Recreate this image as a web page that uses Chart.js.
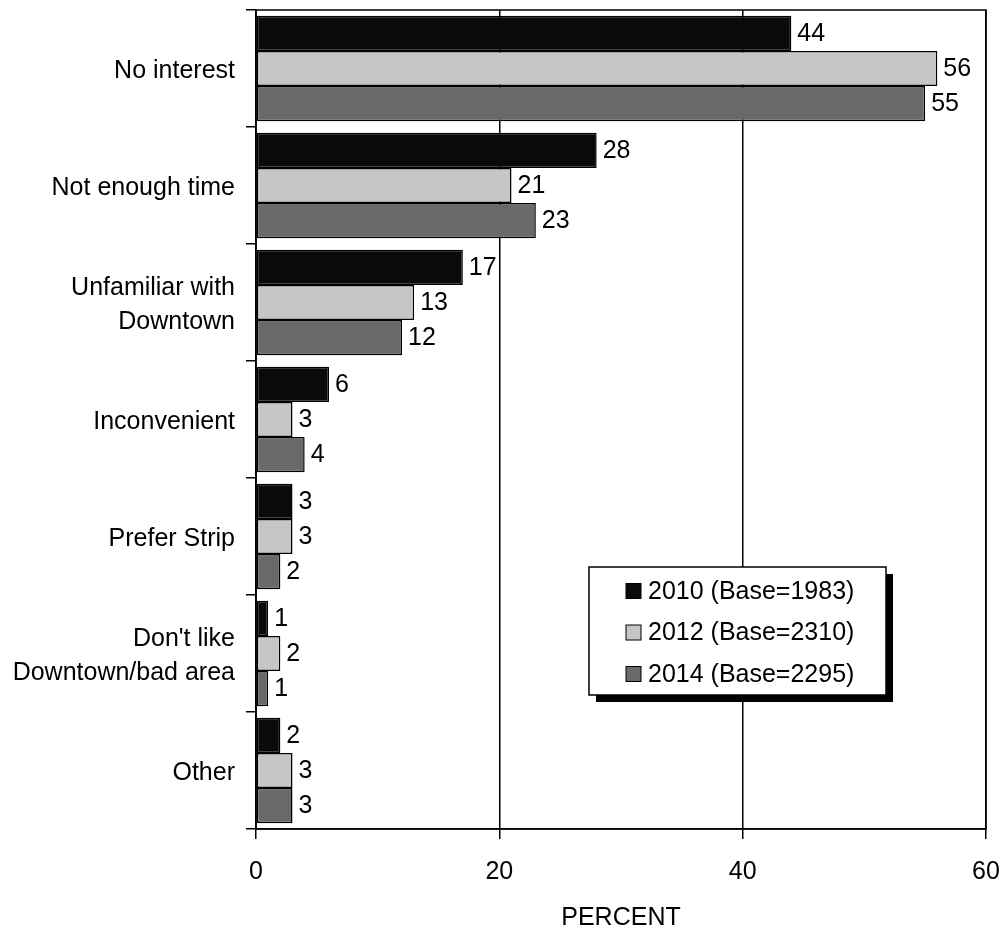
<!DOCTYPE html>
<html lang="en">
  <head>
    <meta charset="utf-8">
    <title>Reasons for not shopping Downtown</title>
    <script src="https://cdn.jsdelivr.net/npm/chart.js@4.4.0/dist/chart.umd.min.js"></script>
    <style>
      body { margin: 0; background: #fff; }
      #wrap { width: 1003px; height: 926px; }
    </style>
  </head>
  <body>
    <div id="wrap"><canvas id="chart" width="1003" height="926"></canvas></div>

    <script>
        var categories = [
            'No interest',
            'Not enough time',
            ['Unfamiliar with', 'Downtown'],
            'Inconvenient',
            'Prefer Strip',
            ["Don't like", 'Downtown/bad area'],
            'Other'
        ];
        var seriesNames = ['2010 (Base=1983)', '2012 (Base=2310)', '2014 (Base=2295)'];
        var values2010 = [44, 28, 17, 6, 3, 1, 2];
        var values2012 = [56, 21, 13, 3, 3, 2, 3];
        var values2014 = [55, 23, 12, 4, 2, 1, 3];
        var xTicks = [0, 20, 40, 60];

        var colors = ['#0a0a0a', '#c6c6c6', '#696969'];
        var fontFamily = '"Liberation Sans", Arial, sans-serif';
        var fontSize = 25;

        // box round the plot, value labels and the boxed legend
        var extras = {
            id: 'extras',
            afterDatasetsDraw: function (chart) {
                var ctx = chart.ctx;
                var a = chart.chartArea;
                ctx.save();
                ctx.strokeStyle = '#000';
                ctx.lineWidth = 1.5;
                ctx.strokeRect(a.left, a.top, a.right - a.left, a.bottom - a.top);

                ctx.fillStyle = '#000';
                ctx.font = fontSize + 'px ' + fontFamily;
                ctx.textAlign = 'left';
                ctx.textBaseline = 'middle';
                chart.data.datasets.forEach(function (ds, i) {
                    chart.getDatasetMeta(i).data.forEach(function (bar, j) {
                        ctx.fillText(ds.data[j], bar.x + 6, bar.y + 1);
                    });
                });

                // legend
                var lx = 589, ly = 567, lw = 297, lh = 128;
                ctx.fillStyle = '#000';
                ctx.fillRect(lx + 7, ly + 7, lw, lh);
                ctx.fillStyle = '#fff';
                ctx.fillRect(lx, ly, lw, lh);
                ctx.strokeRect(lx, ly, lw, lh);
                chart.data.datasets.forEach(function (ds, i) {
                    var cy = ly + 24 + i * 41.5;
                    ctx.fillStyle = ds.backgroundColor;
                    ctx.fillRect(lx + 37, cy - 7.5, 15, 15);
                    ctx.lineWidth = 1;
                    ctx.strokeRect(lx + 37, cy - 7.5, 15, 15);
                    ctx.fillStyle = '#000';
                    ctx.fillText(ds.label, lx + 59, cy + 1);
                });
                ctx.restore();
            }
        };

        function drawChart() {
            var ctx = document.getElementById('chart').getContext('2d');
            var sets = [values2010, values2012, values2014];

            var chart = new Chart(ctx, {
                type: 'bar',
                data: {
                    labels: categories,
                    datasets: sets.map(function (vals, i) {
                        return {
                            label: seriesNames[i],
                            data: vals,
                            backgroundColor: colors[i],
                            borderColor: '#000',
                            borderWidth: 1.5,
                            borderSkipped: false,
                            categoryPercentage: 0.9,
                            barPercentage: 1.0
                        };
                    })
                },
                options: {
                    indexAxis: 'y',
                    responsive: false,
                    animation: false,
                    layout: { padding: { top: 10, right: 17, left: 0, bottom: 0 } },
                    plugins: {
                        legend: { display: false },
                        tooltip: { enabled: false }
                    },
                    scales: {
                        x: {
                            min: 0,
                            max: 60,
                            afterBuildTicks: function (scale) {
                                scale.ticks = xTicks.map(function (v) { return { value: v }; });
                            },
                            afterFit: function (scale) {
                                scale.height = 97;
                                scale.paddingLeft = 0;
                                scale.paddingRight = 0;
                            },
                            grid: { color: '#000', lineWidth: 1.5, tickLength: 10 },
                            border: { color: '#000', width: 1.5 },
                            ticks: {
                                color: '#000',
                                padding: 18,
                                font: { family: fontFamily, size: fontSize }
                            },
                            title: {
                                display: true,
                                text: 'PERCENT',
                                color: '#000',
                                padding: { top: 0, bottom: 0 },
                                font: { family: fontFamily, size: fontSize, lineHeight: 0.6 }
                            }
                        },
                        y: {
                            offset: true,
                            afterFit: function (scale) {
                                scale.width = 256;
                                scale.paddingTop = 0;
                                scale.paddingBottom = 0;
                            },
                            grid: {
                                offset: true,
                                drawOnChartArea: false,
                                color: '#000',
                                lineWidth: 1.5,
                                tickLength: 10
                            },
                            border: { color: '#000', width: 1.5 },
                            ticks: {
                                color: '#000',
                                padding: 11,
                                labelOffset: 3,
                                font: { family: fontFamily, size: fontSize, lineHeight: 1.36 }
                            }
                        }
                    }
                },
                plugins: [extras]
            });
        }

        drawChart();
    </script>
  </body>
</html>
